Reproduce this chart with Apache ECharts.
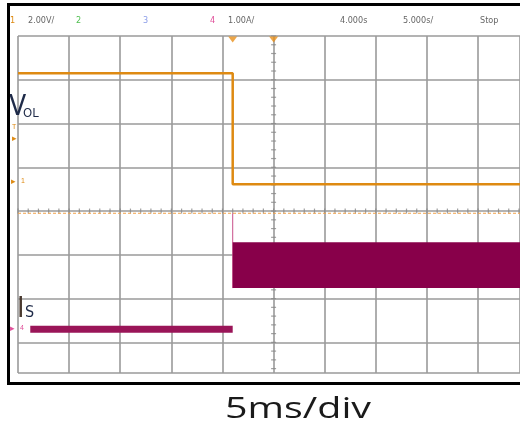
<!DOCTYPE html>
<html><head><meta charset="utf-8">
<script src="https://cdn.jsdelivr.net/npm/echarts@6/dist/echarts.min.js"></script>
<style>html,body{margin:0;padding:0;background:#fff}#c{width:520px;height:427px}</style>
</head><body><div id="c"></div>
<script>
// ---- data (time in ms, ch1 in V, ch4 in A) ----
const ch1Time = [0, 21, 21, 49.1];
const ch1Volt = [6.4, 6.4, 1.33, 1.33];
const ch4Time = [1.2, 21, 21, 21];
const ch4Amp = [0, 0, 2.65, 0.94];
const ch4BandTime = [21, 49.1];
const ch4BandAmp = [0.94, 1.99];
const triggerMarks = [21, 25];
const headerTexts = ['1', '2.00V/', '2', '3', '4', '1.00A/', '4.000s', '5.000s/', 'Stop'];
const footerText = '5ms/div';

// ---- scale conversions (divisions from top of screen) ----
const V_PER_DIV = 2, A_PER_DIV = 1, MS_PER_DIV = 5;
const CH1_REF = 4.05, CH4_REF = 6.70;
const v2d = v => CH1_REF - v / V_PER_DIV;
const a2d = a => CH4_REF - a / A_PER_DIV;

const ORANGE = '#DE8A12', MAROON = '#88004A';

const ch1Data = ch1Time.map((t, i) => [t, v2d(ch1Volt[i])]);
const ch4Data = ch4Time.map((t, i) => [t, a2d(ch4Amp[i])]);

// centre graticule minor ticks
const hTicks = [], vTicks = [];
for (let k = 0; k <= 49; k++) hTicks.push([k * MS_PER_DIV / 5, 4]);
for (let k = 0; k <= 38; k++) vTicks.push([25, k / 5]);

const chart = echarts.init(document.getElementById('c'));
const hx = [10, 28, 76, 143, 210, 228, 340, 403, 480];
const hc = [ORANGE, '#666', '#4fbf4f', '#8a9ce8', '#e0509a', '#666', '#666', '#666', '#666'];
const headerGraphics = headerTexts.map((t, i) => ({
  type: 'text', left: hx[i], top: 16,
  style: { text: t, fill: hc[i], font: '9px "Liberation Sans Narrow", "DejaVu Sans Condensed", sans-serif' }
}));

chart.setOption({
  animation: false,
  backgroundColor: '#fff',
  grid: { left: 18, right: 0, top: 36, height: 337 },
  xAxis: { type: 'value', min: 0, max: 49.1, interval: 5,
    axisLine: { show: false }, axisTick: { show: false }, axisLabel: { show: false },
    splitLine: { show: true, lineStyle: { color: '#9a9a9a', width: 1.6 } } },
  yAxis: { type: 'value', inverse: true, min: 0, max: 7.7, interval: 1,
    axisLine: { show: false }, axisTick: { show: false }, axisLabel: { show: false },
    splitLine: { show: true, lineStyle: { color: '#9a9a9a', width: 1.6 } } },
  series: [
    { type: 'scatter', z: 0, data: hTicks, symbol: 'rect', symbolSize: [1.2, 5], itemStyle: { color: '#888' }, silent: true },
    { type: 'scatter', z: 0, data: vTicks, symbol: 'rect', symbolSize: [5, 1.2], itemStyle: { color: '#888' }, silent: true },
    { type: 'line', data: [[0, CH1_REF], [49.1, CH1_REF]], symbol: 'none',
      lineStyle: { color: '#F2A24A', width: 1, type: [3, 2] }, silent: true },
    { type: 'line', data: ch1Data, symbol: 'none', lineStyle: { color: ORANGE, width: 2.5 } },
    { type: 'line', data: ch4Data.slice(2), symbol: 'none', lineStyle: { color: '#C8508A', width: 1 } },
    { type: 'line', z: 3, data: ch4Data.slice(0, 2), symbol: 'none', lineStyle: { color: '#9A1558', width: 7 },
      markArea: { silent: true, z: 5, itemStyle: { color: MAROON, opacity: 1 },
        data: [[{ coord: [ch4BandTime[0], a2d(ch4BandAmp[1])] }, { coord: [ch4BandTime[1], a2d(ch4BandAmp[0])] }]] } },
    { type: 'scatter', data: triggerMarks.map(t => [t, 0.08]), symbol: 'triangle', symbolRotate: 180,
      symbolSize: [9, 6], clip: false, itemStyle: { color: '#E8901A' } }
  ],
  graphic: [
    { type: 'rect', shape: { x: 8.5, y: 4.5, width: 520, height: 379 }, style: { fill: 'none', stroke: '#000', lineWidth: 3 }, z: 100 },
    { type: 'text', left: 9, top: 94, style: { text: 'V', fill: '#1e2a48', font: '28px "Liberation Sans Narrow", "DejaVu Sans Condensed", sans-serif' }, z: 50 },
    { type: 'text', left: 23, top: 107, style: { text: 'OL', fill: '#1e2a48', font: '13px "Liberation Sans Narrow", "DejaVu Sans Condensed", sans-serif' }, z: 50 },
    { type: 'text', left: 17, top: 296, style: { text: 'I', fill: '#4a3a30', font: '28px "Liberation Sans Narrow", "DejaVu Sans Condensed", sans-serif' }, z: 50 },
    { type: 'text', left: 25, top: 305, style: { text: 'S', fill: '#1e2a48', font: '16px "Liberation Sans Narrow", "DejaVu Sans Condensed", sans-serif' }, z: 50 },
    { type: 'text', left: 12, top: 124, style: { text: 'T', fill: ORANGE, font: '7px sans-serif' } },
    { type: 'text', left: 12, top: 134, style: { text: '▸', fill: ORANGE, font: '9px sans-serif' } },
    { type: 'text', left: 11, top: 177, style: { text: '▸', fill: ORANGE, font: '9px sans-serif' } },
    { type: 'text', left: 21, top: 178, style: { text: '1', fill: ORANGE, font: '7px sans-serif' } },
    { type: 'text', left: 10, top: 324, style: { text: '▸', fill: '#e0509a', font: '9px sans-serif' } },
    { type: 'text', left: 20, top: 325, style: { text: '4', fill: '#e0509a', font: '7px sans-serif' } },
    { type: 'text', x: 298, y: 410, scaleX: 1.36,
      style: { text: footerText, fill: '#1a1a1a', font: '29px "Open Sans", sans-serif', align: 'center', verticalAlign: 'middle' } },
    ...headerGraphics
  ]
});
</script></body></html>
